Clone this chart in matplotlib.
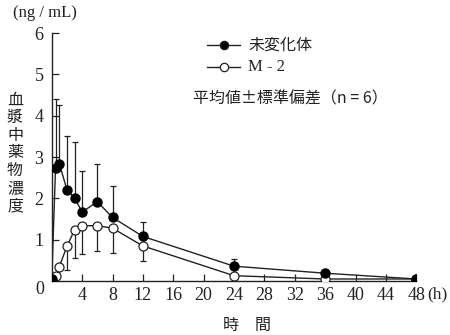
import matplotlib
matplotlib.use("Agg")
import matplotlib.pyplot as plt
import numpy as np

plt.rcParams['font.family'] = ['Liberation Serif', 'Noto Sans CJK JP', 'DejaVu Sans']

times = [0, 0.5, 1, 2, 3, 4, 6, 8, 12, 24, 36, 48]
parent_mean = [0.05, 2.74, 2.84, 2.21, 2.01, 1.67, 1.92, 1.54, 1.08, 0.36, 0.19, 0.05]
parent_sd = [0.0, 1.67, 1.42, 1.30, 1.35, 1.00, 0.92, 0.75, 0.36, 0.17, 0.08, 0.0]
m2_mean = [0.05, 0.13, 0.35, 0.84, 1.24, 1.34, 1.34, 1.28, 0.85, 0.13, 0.05, 0.05]
m2_sd = [0.0, 0.0, 0.0, 0.57, 0.67, 0.69, 0.61, 0.60, 0.36, 0.18, 0.08, 0.0]

xticks = [4, 8, 12, 16, 20, 24, 28, 32, 36, 40, 44, 48]
yticks = [1, 2, 3, 4, 5, 6]

fig = plt.figure(figsize=(4.5, 3.35), dpi=100)
ax = fig.add_axes([0.115, 0.161, 0.81, 0.74])

# error bars (one-sided)
ax.errorbar(times, parent_mean, yerr=[np.zeros(len(parent_sd)), parent_sd], fmt='none',
            ecolor='#222222', elinewidth=0.9, capsize=2, capthick=0.9, zorder=2)
ax.errorbar(times, m2_mean, yerr=[m2_sd, np.zeros(len(m2_sd))], fmt='none',
            ecolor='#222222', elinewidth=0.9, capsize=2, capthick=0.9, zorder=2)

ax.plot(times, m2_mean, '-o', color='#222222', mfc='white', mec='#222222', ms=6.5,
        lw=1.0, mew=0.9, zorder=3)
ax.plot(times, parent_mean, '-o', color='#222222', mfc='black', mec='black', ms=6.5,
        lw=1.0, zorder=4)

ax.set_xlim(0, 48)
ax.set_ylim(0, 6)
ax.spines['top'].set_visible(False)
ax.spines['right'].set_visible(False)
for s in ['left', 'bottom']:
    ax.spines[s].set_linewidth(1.0)
    ax.spines[s].set_color('#222222')
ax.set_xticks(xticks)
ax.set_xticklabels([str(v) for v in xticks])
ax.set_yticks(yticks)
ax.set_yticklabels([str(v) for v in yticks])
ax.tick_params(direction='in', length=5, width=0.9, labelsize=13, colors='#222222', pad=4)
ax.tick_params(axis='y', pad=6)
ax.patch.set_visible(False)

fig.text(40 / 450, 1 - 290 / 335, '0', fontsize=13, ha='center', va='center', color='#222222')
fig.text(437 / 450, 1 - 294 / 335, '(h)', fontsize=12.5, ha='center', va='center', color='#222222')
fig.text(45 / 450, 1 - 13 / 335, '(ng / mL)', fontsize=12, ha='center', va='center', color='#222222')
fig.text(15 / 450, 1 - 153 / 335, '血\n漿\n中\n薬\n物\n濃\n度', fontsize=11.5, ha='center',
         va='center', linespacing=1.05, family=['Noto Sans CJK JP'], color='#222222')
fig.text(247 / 450, 1 - 325 / 335, '時　間', fontsize=11.5, ha='center', va='center',
         family=['Noto Sans CJK JP'], color='#222222')

# legend
lx0, lx1 = 207 / 450, 240 / 450
for yy, filled in [(45, True), (67, False)]:
    yf = 1 - yy / 335
    fig.add_artist(plt.Line2D([lx0, lx1], [yf, yf], color='#222222', lw=1.0,
                              transform=fig.transFigure))
    fig.add_artist(plt.Line2D([(lx0 + lx1) / 2], [yf], marker='o', ms=6,
                              mfc='black' if filled else 'white', mec='#222222', mew=0.9,
                              transform=fig.transFigure))
fig.text(248 / 450, 1 - 45 / 335, '未変化体', fontsize=11.5, ha='left', va='center',
         family=['Noto Sans CJK JP'], color='#222222')
fig.text(248 / 450, 1 - 67 / 335, 'M - 2', fontsize=12, ha='left', va='center', color='#222222')
fig.text(193 / 450, 1 - 99 / 335, '平均値±標準偏差（n = 6）', fontsize=11.5, ha='left', va='center',
         family=['Noto Sans CJK JP', 'DejaVu Sans'], color='#222222')

fig.savefig('out.png', dpi=100)
